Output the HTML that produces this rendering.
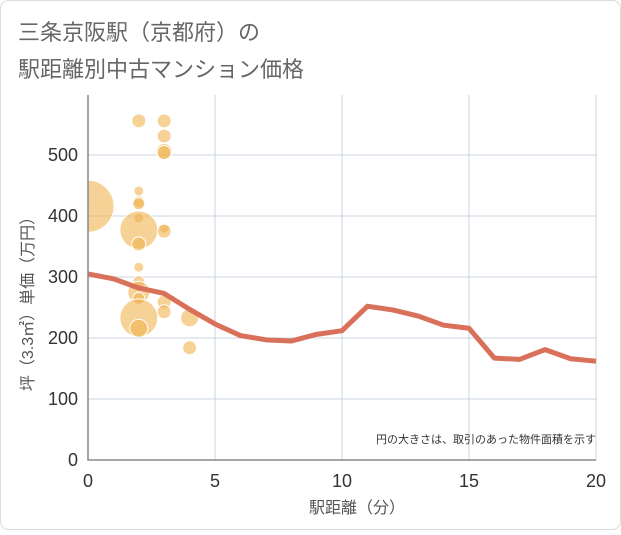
<!DOCTYPE html>
<html><head><meta charset="utf-8"><style>
body{margin:0;background:#fff;font-family:"Liberation Sans","Noto Sans CJK JP",sans-serif}
</style></head><body>
<svg width="621" height="530" xmlns="http://www.w3.org/2000/svg">
<defs><clipPath id="plotclip"><rect x="88" y="95" width="508" height="365"/></clipPath></defs>
<rect x="0.5" y="0.5" width="620" height="529" rx="8" fill="#fff" stroke="#ddd"/>
<text x="18" y="40" font-size="22" fill="#666" font-family="Liberation Sans,Noto Sans CJK JP,sans-serif">三条京阪駅（京都府）の</text>
<text x="18" y="77" font-size="22" fill="#666" font-family="Liberation Sans,Noto Sans CJK JP,sans-serif">駅距離別中古マンション価格</text>
<g id="grid"></g>
<g id="bubbles" clip-path="url(#plotclip)"></g>
<g id="line"></g>
<g id="axes"></g>
<text x="596" y="443" font-size="11" fill="#333" text-anchor="end" font-family="Liberation Sans,Noto Sans CJK JP,sans-serif">円の大きさは、取引のあった物件面積を示す</text>
<text x="357" y="513" font-size="16" fill="#555" text-anchor="middle" font-family="Liberation Sans,Noto Sans CJK JP,sans-serif">駅距離（分）</text>
<text transform="translate(33,300) rotate(-90)" font-size="16" fill="#555" text-anchor="middle" font-family="Liberation Sans,Noto Sans CJK JP,sans-serif">坪（3.3㎡）単価（万円）</text>
</svg>
<script>
const xTicks=[0,5,10,15,20];
const yTicks=[0,100,200,300,400,500];
const bubbleX=[0,2,2,2,2,2,2,2,2,2,2,2,2,2,3,3,3,3,3,3,3,3,4,4];
const bubbleY=[416,556,441,423,397,420,377,354,316,292,275,265,233,216,556,531,506,504,380,375,259,243,233,184];
const bubbleR=[26,7,5,6,5,6,19,7,5,6,11,6,19,9,7,7,8,7,5,7,7,7,9,7];
const lineX=[0,1,2,3,4,5,6,7,8,9,10,11,12,13,14,15,16,17,18,19,20];
const lineY=[305,297,282,273,247,223,204,197,195,206,212,252,246,236,221,216,167,165,181,166,162];
const X0=88,X1=596,Y0=460,Yp=0.61,TOP=95;
const sx=v=>X0+(X1-X0)*v/20, sy=v=>Y0-v*Yp;
const NS="http://www.w3.org/2000/svg";
function mk(t,a,p){const e=document.createElementNS(NS,t);for(const k in a)e.setAttribute(k,a[k]);p.appendChild(e);return e;}
const grid=document.getElementById('grid'),axes=document.getElementById('axes');
xTicks.forEach(t=>{const l=mk('line',{x1:sx(t),x2:sx(t),y1:TOP,y2:Y0,stroke:'#c8d4e0'},grid);

const tx=mk('text',{x:sx(t),y:487,'font-size':18,fill:'#333','text-anchor':'middle'},axes);tx.textContent=t;
});
yTicks.forEach(t=>{const l=mk('line',{x1:X0,x2:X1,y1:sy(t),y2:sy(t),stroke:'#c8d4e0'},grid);

const tx=mk('text',{x:78,y:sy(t)+6,'font-size':18,fill:'#333','text-anchor':'end'},axes);tx.textContent=t;
});
const ax=mk('path',{d:`M${X0},${TOP}V${Y0}H${X1}`,stroke:'#888',fill:'none','stroke-width':1.5},axes);

const bg=document.getElementById('bubbles');
bubbleX.forEach((v,i)=>{const c=mk('circle',{cx:sx(v),cy:sy(bubbleY[i]),r:bubbleR[i],fill:'rgba(240,180,80,0.6)',stroke:'#fff','stroke-width':1},bg);
});
const p=mk('polyline',{points:lineX.map((v,i)=>sx(v)+','+sy(lineY[i])).join(' '),fill:'none',stroke:'#d9705a','stroke-width':5,'stroke-linejoin':'round'},document.getElementById('line'));

</script>
</body></html>
